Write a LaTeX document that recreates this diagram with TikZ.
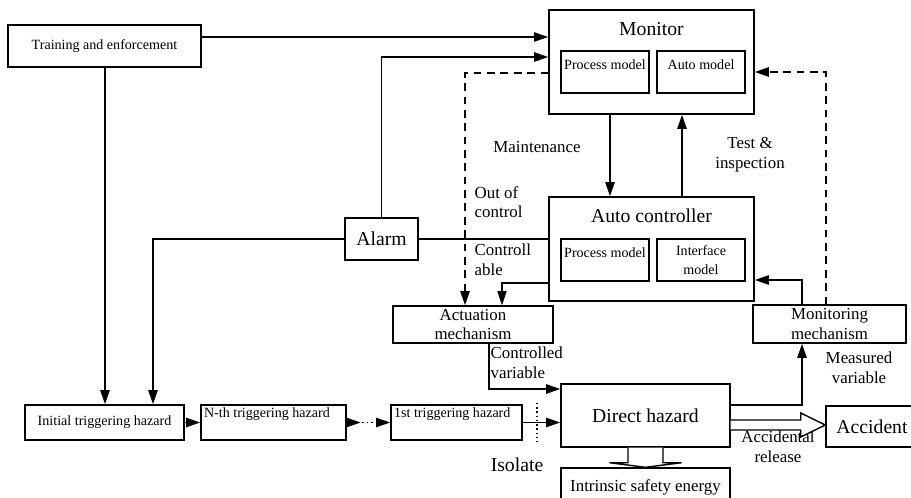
\documentclass[tikz,border=0pt]{standalone}
\usepackage{fontspec}
\setmainfont{Liberation Serif}
\usetikzlibrary{arrows.meta,calc}
\tikzset{
  arr/.style={line width=1.35pt, -{Triangle[length=10pt,width=6.5pt]}},
  thinarr/.style={line width=0.8pt, -{Triangle[length=10pt,width=6.5pt]}},
  dasharr/.style={arr, dash pattern=on 5.5pt off 4pt},
  hollow/.style={draw, line width=1pt, fill=white, line join=miter}
}

\begin{document}
\begin{tikzpicture}[x=0.025cm, y=-0.025cm,
    box/.style={draw, line width=1pt, inner sep=0pt, align=center},
    inbox/.style={box, minimum width=2.2cm, minimum height=1.05cm},
    big/.style={font=\fontsize{14}{16}\selectfont, align=center},
    mid/.style={font=\fontsize{12}{14}\selectfont, align=center, inner sep=1pt},
    small/.style={font=\fontsize{10}{12}\selectfont, align=center}]
  \useasboundingbox (0,0) rectangle (911,498);

  % boxes
  \node[box, small, minimum width=4.825cm, minimum height=1.05cm] (train) at (104.5,46) {Training and enforcement};
  \node[box, minimum width=5.125cm, minimum height=2.6cm] (monitor) at (651.5,62) {};
  \node[big] (montitle) at (651.5,29) {Monitor};
  \node[inbox, label={[small, anchor=north, inner sep=6.5pt]north:Process model}] (pmA) at (605,72) {};
  \node[inbox, label={[small, anchor=north, inner sep=6.5pt]north:Auto model}] (amA) at (701,72) {};
  \node[box, minimum width=5.125cm, minimum height=2.6cm] (autoc) at (651.5,249) {};
  \node[big] (actitle) at (651.5,216) {Auto controller};
  \node[inbox, label={[small, anchor=north, inner sep=6.5pt]north:Process model}] (pmB) at (605,260) {};
  \node[inbox, small] (imB) at (701,260) {Interface\\[2pt]model};
  \node[box, big, minimum width=1.825cm, minimum height=1.05cm] (alarm) at (381.5,239) {Alarm};
  \node[box, mid, minimum width=4cm, minimum height=0.925cm] (act) at (473,324.5) {Actuation\\mechanism};
  \node[box, mid, minimum width=3.825cm, minimum height=0.95cm] (monmech) at (829.5,324) {Monitoring\\mechanism};
  \node[box, big, minimum width=4.225cm, minimum height=1.575cm] (direct) at (645.5,415.5) {Direct hazard};
  \node[box, big, minimum width=2.3cm, minimum height=1.025cm] (accident) at (872,426.5) {Accident};
  \node[box, mid, minimum width=4.225cm, minimum height=0.95cm] (energy) at (645.5,487) {Intrinsic safety energy};
  \node[box, small, minimum width=3.975cm, minimum height=0.875cm] (init) at (104.5,422.5) {Initial triggering hazard};
  \node[box, minimum width=3.625cm, minimum height=0.875cm,
        label={[small, anchor=north west, inner sep=2.5pt]north west:N-th triggering hazard}] (nth) at (273.5,422.5) {};
  \node[box, minimum width=3.275cm, minimum height=0.875cm,
        label={[small, anchor=north west, inner sep=2.5pt]north west:1st triggering hazard}] (first) at (456.5,422.5) {};

  % labels
  \node[mid] (maint) at (537,147) {Maintenance};
  \node[mid] (test) at (750,155) {Test \&\\inspection};
  \node[mid, anchor=west, align=left] (outc) at (473,202) {Out of\\control};
  \node[mid, anchor=west, align=left] (ctrl) at (473,260) {Controll\\able};
  \node[mid, anchor=west, align=left] (cvar) at (489,363) {Controlled\\variable};
  \node[mid] (mvar) at (859,368) {Measured\\variable};
  \node[mid] (accrel) at (778,447) {Accidental\\release};
  \node[big] (iso) at (517,465) {Isolate};

  % bend points
  \coordinate (tm) at (0,37);
  \coordinate (tv) at (105,0);
  \coordinate (am) at (381.5,57);
  \coordinate (lft) at (153,239);
  \coordinate (oc) at (465,73);
  \coordinate (ca) at (502,283);
  \coordinate (mt) at (610,0);
  \coordinate (ti) at (682,0);
  \coordinate (fb) at (826,72);
  \coordinate (mv) at (802,280);
  \coordinate (dm) at (802,405);
  \coordinate (cv) at (489,389);

  % connectors
  \draw[arr] (train.east |- tm) -- (monitor.west |- tm);
  \draw[arr] (alarm.north) |- (monitor.west |- am);
  \draw[arr] (train.south -| tv) -- (init.north -| tv);
  \draw[arr] (alarm.west) -| (init.north -| lft);
  \draw[line width=0.8pt] (alarm.east) -- (alarm.east -| autoc.west);
  \draw[dasharr] (monitor.west |- oc) -| (act.north -| oc);
  \draw[thinarr] (autoc.west |- ca) -| (act.north -| ca);
  \draw[arr] (monitor.south -| mt) -- (autoc.north -| mt);
  \draw[arr] (autoc.north -| ti) -- (monitor.south -| ti);
  \draw[dasharr] (monmech.north -| fb) |- (monitor.east |- fb);
  \draw[arr] (monmech.north -| mv) |- (autoc.east |- mv);
  \draw[arr] (direct.east |- dm) -| (monmech.south -| dm);
  \draw[arr] (act.south -| cv) |- (direct.west |- cv);
  \draw[arr] (init) -- (nth);
  \draw[line width=1.2pt, dotted, {Triangle[reversed,length=10pt,width=6.5pt]}-{Triangle[length=10pt,width=6.5pt]}] (nth.east) -- (first.west);
  \draw[arr] (first.east) -- (first.east -| direct.west);
  \draw[line width=1pt, dotted] (537,403) -- (537,445);

  % hollow arrows
  \draw[hollow] ($(direct.east)+(0,4.5)$) -- ++(70,0) -- ++(0,-7)
    -- ($(accident.west)+(0,-1.5)$) -- ($(direct.east)+(70,21.5)$) -- ++(0,-7)
    -- ($(direct.east)+(0,14.5)$);
  \draw[hollow] ($(direct.south)+(-17.5,0)$) -- ++(0,15) -- ++(-18.5,0)
    -- (energy.north) -- ($(direct.south)+(36,15)$) -- ++(-18.5,0) -- ++(0,-15);
\end{tikzpicture}
\end{document}
